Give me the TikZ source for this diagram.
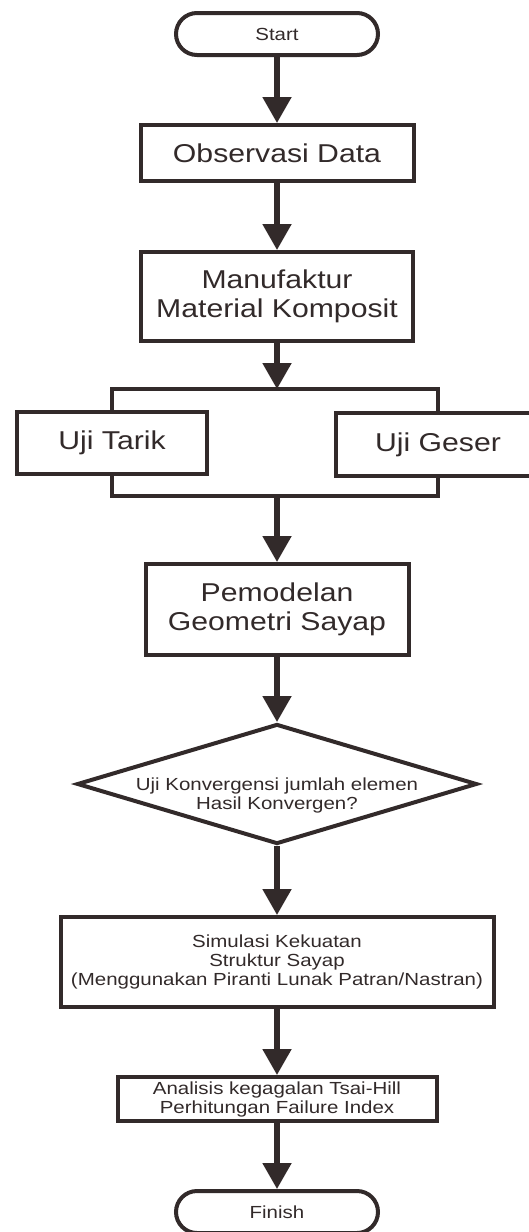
\documentclass[tikz,border=0pt]{standalone}
\usepackage{fontspec}
\setmainfont{Liberation Sans}[FakeStretch=1.17]
\usetikzlibrary{arrows.meta,shapes.geometric}
\definecolor{ink}{RGB}{50,42,42}
\newcommand{\bigtxt}{\fontsize{12.9pt}{14.5pt}\selectfont}
\newcommand{\smalltxt}{\fontsize{8.75pt}{9.5pt}\selectfont}

\begin{document}
\begin{tikzpicture}[x=0.5pt, y=-0.5pt, color=ink,
  terminal/.style={draw, line width=2pt, rounded corners=10.5pt, minimum width=101pt, minimum height=21pt, inner sep=0pt, font=\smalltxt},
  proc/.style={draw, line width=2pt, inner sep=0pt, align=center, font=\bigtxt},
  subproc/.style={proc, font=\smalltxt},
  decision/.style={diamond, draw, line width=2pt, inner sep=0pt, minimum width=200pt, minimum height=60pt},
  flow/.style={line width=2.6pt, -{Triangle[width=14pt,length=13pt]}},
  link/.style={line width=2pt}]
  % 1. bingkai gambar
  \useasboundingbox (0,0) rectangle (529,1232);
  \clip (0,0) rectangle (529,1232);

  % 2. simpul utama
  \node[terminal] (start) at (277,34) {Start};
  \node[proc, minimum width=136.5pt, minimum height=28pt] (obs) at (277,153) {Observasi Data};
  \node[proc, minimum width=136pt, minimum height=44.5pt] (manu) at (277,296.5) {Manufaktur\\Material Komposit};
  \node[proc, minimum width=95pt, minimum height=31pt] (tarik) at (112,443) {Uji Tarik};
  \node[proc, minimum width=102pt, minimum height=31.5pt] (geser) at (438,444.5) {Uji Geser};
  \node[proc, minimum width=131.5pt, minimum height=45.5pt] (model) at (277,609.5) {Pemodelan\\Geometri Sayap};
  \node[decision] (conv) at (277,784) {};
  \node[font=\smalltxt, align=center] (convtxt) at (277,795.5) {Uji Konvergensi jumlah elemen\\Hasil Konvergen?};
  \node[subproc, minimum width=216.5pt, minimum height=45pt] (sim) at (277,962) {Simulasi Kekuatan\\Struktur Sayap\\(Menggunakan Piranti Lunak Patran/Nastran)};
  \node[subproc, minimum width=159.5pt, minimum height=22pt] (fail) at (277,1099) {Analisis kegagalan Tsai-Hill\\Perhitungan Failure Index};
  \node[terminal] (finish) at (277,1212) {Finish};

  % 3. titik cabang dan gabung
  \coordinate (split) at (277,389);
  \coordinate (merge) at (277,496);

  % 4. garis dan panah alur
  \draw[flow] (start) -- (obs);
  \draw[flow] (obs) -- (manu);
  \draw[flow] (manu) -- (split);
  \draw[link] (tarik.north) |- (split) -| (geser.north);
  \draw[link] (tarik.south) |- (merge) -| (geser.south);
  \draw[flow] (merge) -- (model);
  \draw[flow] (model) -- (conv);
  \draw[flow] (conv) -- (sim);
  \draw[flow] (sim) -- (fail);
  \draw[flow] (fail) -- (finish);
\end{tikzpicture}
\end{document}
